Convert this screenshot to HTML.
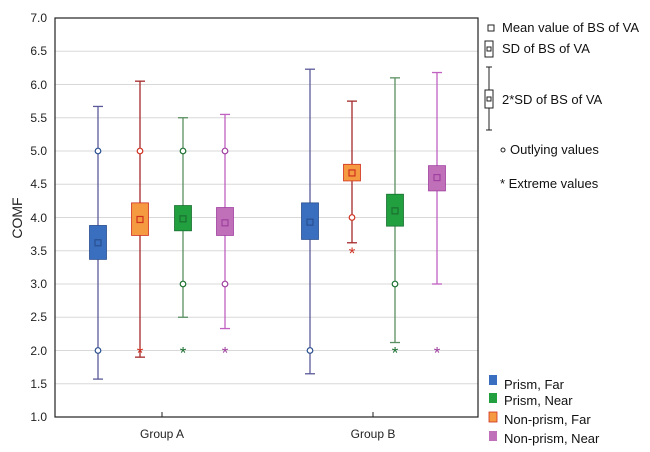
<!DOCTYPE html>
<html><head><meta charset="utf-8"><style>
body{margin:0;background:#fff}
svg{display:block;font-family:"Liberation Sans",Arial,sans-serif}
</style></head><body>
<svg width="650" height="452" viewBox="0 0 650 452" xmlns="http://www.w3.org/2000/svg">
<g id="grid" stroke="#d8d8d8" stroke-width="1">
<line x1="55" x2="478" y1="51.25" y2="51.25"/><line x1="55" x2="478" y1="84.5" y2="84.5"/>
<line x1="55" x2="478" y1="117.75" y2="117.75"/><line x1="55" x2="478" y1="151" y2="151"/>
<line x1="55" x2="478" y1="184.25" y2="184.25"/><line x1="55" x2="478" y1="217.5" y2="217.5"/>
<line x1="55" x2="478" y1="250.75" y2="250.75"/><line x1="55" x2="478" y1="284" y2="284"/>
<line x1="55" x2="478" y1="317.25" y2="317.25"/><line x1="55" x2="478" y1="350.5" y2="350.5"/>
<line x1="55" x2="478" y1="383.75" y2="383.75"/>
</g>
<rect x="55" y="18" width="423" height="399" fill="none" stroke="#222" stroke-width="1.2"/>
<g stroke="#222"><line x1="162" x2="162" y1="417" y2="412"/><line x1="373" x2="373" y1="417" y2="412"/></g>
<g font-size="12" fill="#222" text-anchor="end">
<text x="47" y="22">7.0</text><text x="47" y="55">6.5</text><text x="47" y="89">6.0</text>
<text x="47" y="122">5.5</text><text x="47" y="155">5.0</text><text x="47" y="188">4.5</text>
<text x="47" y="222">4.0</text><text x="47" y="255">3.5</text><text x="47" y="288">3.0</text>
<text x="47" y="321">2.5</text><text x="47" y="355">2.0</text><text x="47" y="388">1.5</text>
<text x="47" y="421">1.0</text>
</g>
<text x="22" y="218" font-size="14" fill="#222" text-anchor="middle" transform="rotate(-90 22 218)">COMF</text>
<text x="162" y="438" font-size="12" fill="#222" text-anchor="middle">Group A</text>
<text x="373" y="438" font-size="12" fill="#222" text-anchor="middle">Group B</text>
<script>
var s=document.querySelector('svg'),NS='http://www.w3.org/2000/svg';
function Y(v){return 417-(v-1)*66.5}
function el(t,a){var e=document.createElementNS(NS,t);for(var k in a)e.setAttribute(k,a[k]);s.appendChild(e);return e}
var C={b:['#3a6fc0','#5a5a9a','#2a4f90'],o:['#f59a40','#a52a2a','#d03020'],g:['#22a040','#5a9060','#1a7030'],p:['#c070b8','#c060c0','#a040a0']};
var D=[[98,'b',1.57,5.67,3.37,3.88,3.62,[5,2],[]],[140,'o',1.9,6.05,3.73,4.22,3.97,[5],[2]],
[183,'g',2.5,5.5,3.8,4.18,3.98,[5,3],[2]],[225,'p',2.33,5.55,3.73,4.15,3.92,[5,3],[2]],
[310,'b',1.65,6.23,3.67,4.22,3.93,[2],[]],[352,'o',3.62,5.75,4.55,4.8,4.67,[4],[3.5]],
[395,'g',2.12,6.1,3.87,4.35,4.1,[3],[2]],[437,'p',3.0,6.18,4.4,4.78,4.6,[],[2]]];
D.forEach(function(d){var x=d[0],c=C[d[1]];
el('line',{x1:x,x2:x,y1:Y(d[2]),y2:Y(d[3]),stroke:c[1],'stroke-width':1.3});
el('line',{x1:x-5,x2:x+5,y1:Y(d[2]),y2:Y(d[2]),stroke:c[1],'stroke-width':1.3});
el('line',{x1:x-5,x2:x+5,y1:Y(d[3]),y2:Y(d[3]),stroke:c[1],'stroke-width':1.3});
el('rect',{x:x-8.5,y:Y(d[5]),width:17,height:Y(d[4])-Y(d[5]),fill:c[0],stroke:c[2],'stroke-width':0.8});
el('rect',{x:x-3,y:Y(d[6])-3,width:6,height:6,fill:'none',stroke:c[2],'stroke-width':1.2});
d[7].forEach(function(v){el('circle',{cx:x,cy:Y(v),r:2.8,fill:'#fff',stroke:c[2],'stroke-width':1.2})});
d[8].forEach(function(v){var t=el('text',{x:x,y:Y(v)+8,'font-size':17,fill:c[2],'text-anchor':'middle'});t.textContent='*'});
});
</script>
<g font-size="13" fill="#111">
<rect x="488" y="25" width="6" height="6" fill="none" stroke="#222"/><text x="502" y="32">Mean value of BS of  VA</text>
<rect x="485" y="41" width="8" height="16" fill="#fff" stroke="#222"/><rect x="487" y="47" width="4" height="4" fill="none" stroke="#222"/><text x="502" y="53">SD of BS of VA</text>
<line x1="489" x2="489" y1="67" y2="130" stroke="#222"/><line x1="486" x2="492" y1="67" y2="67" stroke="#222"/><line x1="486" x2="492" y1="130" y2="130" stroke="#222"/>
<rect x="485" y="90" width="8" height="18" fill="#fff" stroke="#222"/><rect x="487" y="97" width="4" height="4" fill="none" stroke="#222"/><text x="502" y="104">2*SD of BS of VA</text>
<circle cx="503" cy="150" r="2" fill="none" stroke="#222"/><text x="510" y="154">Outlying values</text>
<text x="500" y="188">* Extreme values</text>
<rect x="489" y="375" width="8" height="10" fill="#3a6fc0"/><text x="504" y="389">Prism, Far</text>
<rect x="489" y="393" width="8" height="10" fill="#22a040"/><text x="504" y="405">Prism, Near</text>
<rect x="489" y="412" width="8" height="10" fill="#f59a40" stroke="#d03020" stroke-width="0.8"/><text x="504" y="424">Non-prism, Far</text>
<rect x="489" y="431" width="8" height="10" fill="#c070b8"/><text x="504" y="443">Non-prism, Near</text>
</g>
</svg>
</body></html>
